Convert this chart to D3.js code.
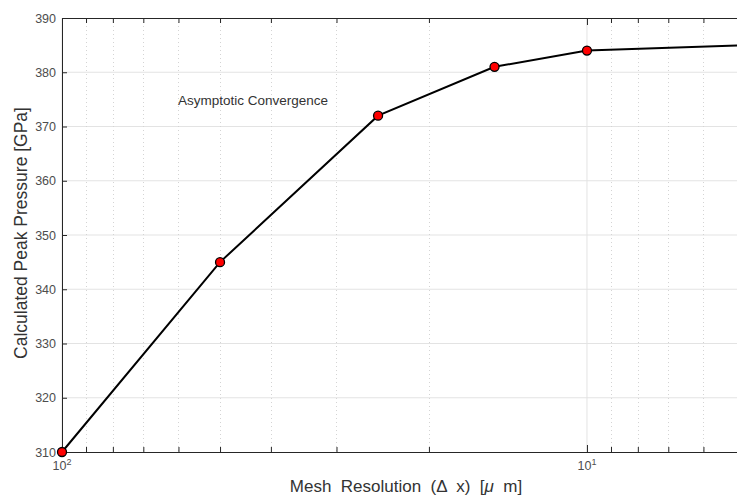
<!DOCTYPE html>
<html>
<head>
<meta charset="utf-8">
<script src="https://cdn.jsdelivr.net/npm/d3@7"></script>
<style>
  body { margin: 0; background: #fff; }
  svg text { font-family: "Liberation Sans", Arial, sans-serif; }
</style>
</head>
<body>
<svg id="chart" width="737" height="496"></svg>
<script>
'use strict';

// data
const meshSizes = [100, 50, 25, 15, 10, 5];
const peakPressure = [310, 345, 372, 381, 384, 385];
const yTicks = [310, 320, 330, 340, 350, 360, 370, 380, 390];
const majorX = [100, 10];
const minorX = [90, 80, 70, 60, 50, 40, 30, 20, 9, 8, 7, 6, 5];
const xTickLabels = [{v: 100, base: '10', exp: '2'}, {v: 10, base: '10', exp: '1'}];

let svg = d3.select('#chart'),
    margin = {top: 18, left: 62, bottom: 452, right: 745};

let x = d3.scaleLog().domain([100, 5]).range([margin.left, margin.right]);
let y = d3.scaleLinear().domain([310, 390]).range([margin.bottom, margin.top]);

let data = meshSizes.map((m, i) => ({m: m, p: peakPressure[i]}));

svg.append('defs').append('clipPath').attr('id', 'clip')
    .append('rect')
    .attr('x', margin.left - 8).attr('y', margin.top - 8)
    .attr('width', margin.right - margin.left + 16)
    .attr('height', margin.bottom - margin.top + 16);

let grid = svg.append('g');

// horizontal grid
grid.selectAll('line.hy').data(yTicks.slice(1, -1)).join('line')
    .attr('x1', margin.left).attr('x2', margin.right)
    .attr('y1', d => y(d)).attr('y2', d => y(d))
    .attr('stroke', '#e3e3e3').attr('stroke-width', 1);

// vertical grid, minor dotted
grid.selectAll('line.mx').data(minorX).join('line')
    .attr('x1', d => Math.round(x(d)) + 0.5).attr('x2', d => Math.round(x(d)) + 0.5)
    .attr('y1', margin.top).attr('y2', margin.bottom)
    .attr('stroke', '#d4d4d4').attr('stroke-width', 1)
    .attr('stroke-dasharray', '1,3');

grid.selectAll('line.jx').data(majorX).join('line')
    .attr('x1', d => x(d)).attr('x2', d => x(d))
    .attr('y1', margin.top).attr('y2', margin.bottom)
    .attr('stroke', '#e3e3e3').attr('stroke-width', 1);

// axes (ticks inward, matlab style)
let axisColor = '#262626';
let bottomAxis = d3.axisBottom(x).tickValues(minorX).tickSize(-5).tickFormat('');
let topAxis = d3.axisTop(x).tickValues(minorX).tickSize(-5).tickFormat('');

svg.append('g').attr('transform', `translate(0,${margin.bottom})`).call(bottomAxis)
    .call(g => g.selectAll('line').attr('stroke', axisColor));
svg.append('g').attr('transform', `translate(0,${margin.bottom})`)
    .call(d3.axisBottom(x).tickValues(majorX).tickSize(-7).tickFormat(''))
    .call(g => g.selectAll('line').attr('stroke', axisColor));
svg.append('g').attr('transform', `translate(0,${margin.top})`).call(topAxis)
    .call(g => g.selectAll('line').attr('stroke', axisColor));
svg.append('g').attr('transform', `translate(0,${margin.top})`)
    .call(d3.axisTop(x).tickValues(majorX).tickSize(-7).tickFormat(''))
    .call(g => g.selectAll('line').attr('stroke', axisColor));

svg.selectAll('.domain').attr('stroke', axisColor);

let leftAxis = svg.append('g').attr('transform', `translate(${margin.left},0)`)
    .call(d3.axisLeft(y).tickValues(yTicks).tickSize(-5).tickPadding(6));
leftAxis.select('.domain').attr('stroke', axisColor);
leftAxis.selectAll('line').attr('stroke', axisColor);
leftAxis.selectAll('text').attr('fill', '#4d4d4d').attr('font-size', 12.5)
    .attr('font-family', '"Liberation Sans", Arial, sans-serif');

// x tick labels with superscripts
let xl = svg.append('g').selectAll('text').data(xTickLabels).join('text')
    .attr('x', d => x(d.v)).attr('y', margin.bottom + 18)
    .attr('text-anchor', 'middle').attr('fill', '#4d4d4d').attr('font-size', 12.5);
xl.append('tspan').text(d => d.base);
xl.append('tspan').attr('dy', -5).attr('font-size', 9).text(d => d.exp);

// line + markers
let plot = svg.append('g').attr('clip-path', 'url(#clip)');
plot.append('path').datum(data)
    .attr('fill', 'none').attr('stroke', '#000').attr('stroke-width', 2)
    .attr('d', d3.line().x(d => x(d.m)).y(d => y(d.p)));

let pts = data.filter(d => x(d.m) <= 737);
plot.selectAll('circle').data(pts).join('circle')
    .attr('cx', d => x(d.m)).attr('cy', d => y(d.p)).attr('r', 4.5)
    .attr('fill', '#f00').attr('stroke', '#000').attr('stroke-width', 1.3);

// annotation
svg.append('text').attr('x', 178).attr('y', 105)
    .attr('font-size', 13.5).attr('fill', '#333')
    .text('Asymptotic Convergence');

// axis labels
let xLabel = svg.append('text').attr('x', 406).attr('y', 492)
    .attr('text-anchor', 'middle').attr('font-size', 17).attr('fill', '#333')
    .style('white-space', 'pre');
xLabel.append('tspan').text('Mesh  Resolution  (\u0394  x)  [');
xLabel.append('tspan').attr('font-style', 'italic').text('\u03bc');
xLabel.append('tspan').text('  m]');

svg.append('text')
    .attr('transform', `translate(27,233) rotate(-90)`)
    .attr('text-anchor', 'middle').attr('font-size', 17.5).attr('fill', '#333')
    .text('Calculated Peak Pressure [GPa]');
</script>
</body>
</html>
